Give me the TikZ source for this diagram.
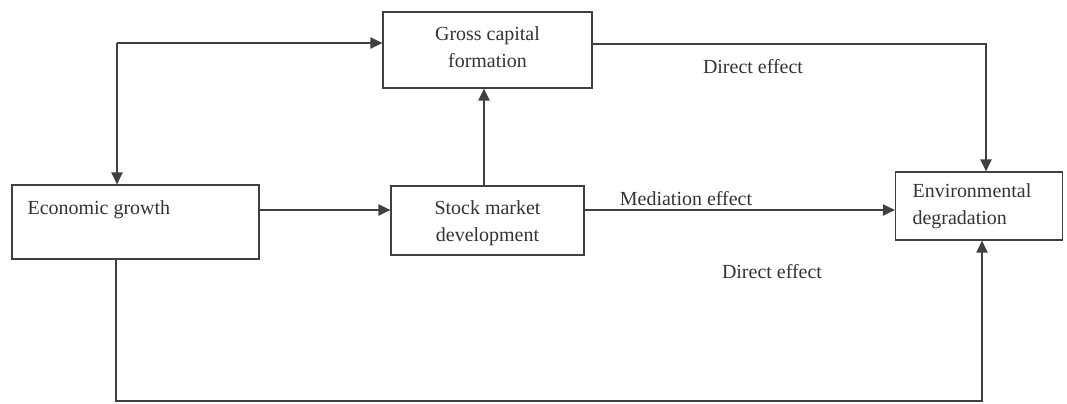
\documentclass[tikz,border=0pt]{standalone}
\usepackage{fontspec}
\setmainfont{Liberation Serif}
\usetikzlibrary{arrows.meta}
\begin{document}
\begin{tikzpicture}[x=0.025cm,y=-0.025cm,
  font=\fontsize{14.2}{19}\selectfont,
  line width=0.9pt,
  every node/.style={text=black!80},
  box/.style={draw=black!75,rectangle,inner sep=0pt},
  link/.style={draw=black!75,-{Triangle[length=8.5pt,width=8pt]}}]

  \useasboundingbox (0,0) rectangle (1067,403);

  \node[box,minimum width=209*0.025cm,minimum height=76*0.025cm] (gross) at (487.5,50) {};
  \node[align=center] (grosstxt) at (487.5,47) {Gross capital\\formation};

  \node[box,minimum width=247*0.025cm,minimum height=74*0.025cm] (econ) at (135.5,222) {};
  \node[anchor=west,inner sep=0pt] (econtxt) at (27,210) {Economic growth};

  \node[box,minimum width=193*0.025cm,minimum height=69*0.025cm] (stock) at (487.5,220.5) {};
  \node[align=center] (stocktxt) at (487.5,223) {Stock market\\development};

  \node[box,minimum width=167*0.025cm,minimum height=68*0.025cm] (env) at (979,206) {};
  \node[anchor=west,align=left,inner sep=0pt] (envtxt) at (912,206) {Environmental\\degradation};

  \coordinate (tl) at (117,43);
  \coordinate (tr) at (986,44);
  \coordinate (bl) at (116,401);
  \coordinate (br) at (982,401);
  \coordinate (up) at (484,0);

  \draw[link] (tl) -- (tl -| gross.west);
  \draw[link] (tl) -- (tl |- econ.north);
  \draw[link] (econ.east |- 0,210) -- (stock.west |- 0,210);
  \draw[link] (stock.north -| up) -- (gross.south -| up);
  \draw[link] (stock.east |- 0,210) -- (env.west |- 0,210);
  \draw[link] (gross.east |- tr) -| (env.north -| tr);
  \draw[link] (econ.south -| bl) -- (bl) -- (br) -- (env.south -| br);

  \node (med) at (686,199) {Mediation effect};
  \node (dir1) at (753,67) {Direct effect};
  \node (dir2) at (772,272) {Direct effect};

\end{tikzpicture}
\end{document}
